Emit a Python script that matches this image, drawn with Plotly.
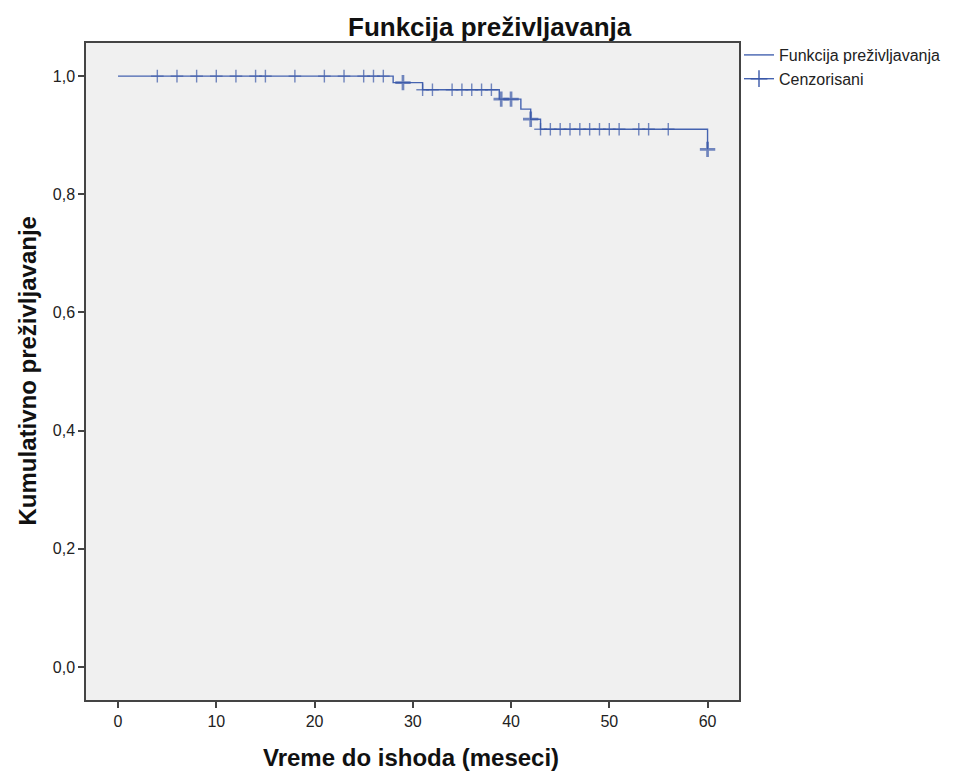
import plotly.graph_objects as go

# --- data ---
step_times = [0, 28, 31, 38.8, 41, 42, 43, 60]
step_surv = [1.0, 0.989, 0.977, 0.961, 0.944, 0.927, 0.910, 0.876]

cens_times = [4, 6, 8, 10, 12, 14, 15, 18, 21, 23, 25, 26, 27,
              29,
              31, 32, 34, 35, 36, 37, 38,
              39, 40,
              42,
              43, 44, 45, 46, 47, 48, 49, 50, 51, 53, 54, 56,
              60]
cens_surv = [1.0] * 13 + [0.989] + [0.977] * 7 + [0.961] * 2 + [0.927] + [0.910] * 12 + [0.876]
cens_count = [1] * 13 + [2] + [1] * 7 + [2, 2] + [2] + [1] * 12 + [2]

x_ticks = [0, 10, 20, 30, 40, 50, 60]
y_ticks = [0.0, 0.2, 0.4, 0.6, 0.8, 1.0]

title_text = "Funkcija preživljavanja"
x_title = "Vreme do ishoda (meseci)"
y_title = "Kumulativno preživljavanje"
legend_names = ["Funkcija preživljavanja", "Cenzorisani"]

LINE = "#4563b0"
MARK = "#3a58a8"
FONT = "Liberation Sans, Arial, sans-serif"

fig = go.Figure()
fig.add_trace(go.Scatter(
    x=step_times, y=step_surv, mode="lines", line=dict(color=LINE, width=1.4, shape="hv"),
    name=legend_names[0], hoverinfo="x+y"))
fig.add_trace(go.Scatter(
    x=cens_times, y=cens_surv, mode="markers", showlegend=False,
    marker=dict(symbol="cross-thin", color=MARK,
                size=[9 + 2 * (c - 1) for c in cens_count],
                line=dict(color=MARK, width=[1.4 + 1.3 * (c - 1) for c in cens_count])),
    name=legend_names[1]))
fig.add_trace(go.Scatter(
    x=[None], y=[None], mode="lines+markers", name=legend_names[1],
    line=dict(color=LINE, width=1.4),
    marker=dict(symbol="cross-thin", size=12, color=MARK, line=dict(color=MARK, width=1.4))))

# page body has an 8px margin: figure coordinates are reference pixels minus 8
OFF = 8
W, H = 954 - OFF, 773 - OFF
L, T = 86 - OFF, 43 - OFF
R = W - (739 - OFF)
B = H - (700 - OFF)
pw, ph = W - L - R, H - T - B


def px_x(px):
    return (px - OFF - L) / pw


def px_y(py):
    return (H - B - (py - OFF)) / ph


axis_common = dict(showgrid=False, zeroline=False, showline=True, mirror=True,
                   linecolor="#444444", linewidth=1.5, ticks="outside", ticklen=6,
                   tickcolor="#444444", tickwidth=1.5,
                   tickfont=dict(family=FONT, size=16, color="#222222"))

fig.update_layout(
    width=W, height=H,
    margin=dict(l=L, r=R, t=T, b=B, autoexpand=False),
    paper_bgcolor="white", plot_bgcolor="#f0f0f0",
    separators=",.",
    font=dict(family=FONT, color="#222222"),
    xaxis=dict(range=[-3.26, 63.2], tickvals=x_ticks, **axis_common),
    yaxis=dict(range=[-0.056, 1.056], tickvals=y_ticks, tickformat=".1f", **axis_common),
    legend=dict(x=1.0, xanchor="left", y=px_y(38), yanchor="top", bgcolor="rgba(0,0,0,0)",
                font=dict(family=FONT, size=16, color="#222222"), tracegroupgap=0,
                itemwidth=30),
    annotations=[
        dict(text="<b>" + title_text + "</b>", xref="paper", yref="paper",
             x=px_x(490), y=px_y(27), xanchor="center", yanchor="middle",
             showarrow=False, font=dict(family=FONT, size=26, color="#111111")),
        dict(text="<b>" + x_title + "</b>", xref="paper", yref="paper",
             x=px_x(411), y=px_y(757), xanchor="center", yanchor="middle",
             showarrow=False, font=dict(family=FONT, size=24, color="#111111")),
        dict(text="<b>" + y_title + "</b>", xref="paper", yref="paper",
             x=px_x(27), y=0.5, xanchor="center", yanchor="middle", textangle=-90,
             showarrow=False, font=dict(family=FONT, size=24, color="#111111")),
    ],
    showlegend=True,
)

fig.write_html("out.html")
